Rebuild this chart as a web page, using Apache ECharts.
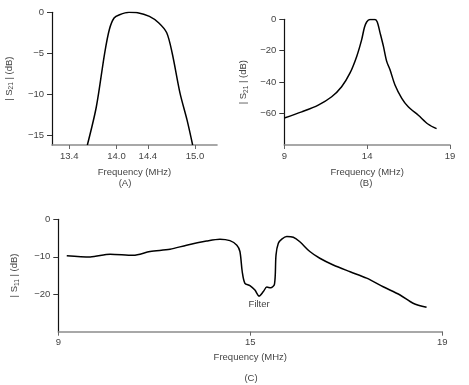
<!DOCTYPE html>
<html><head><meta charset="utf-8">
<script src="https://cdn.jsdelivr.net/npm/echarts@6/dist/echarts.min.js"></script>
<style>html,body{margin:0;padding:0;background:#fff}#c{width:469px;height:385px}</style>
</head><body><div id="c"></div>
<script>
// Panel A: |S21| passband
const aFreq = [13.63, 13.745, 13.85, 13.91, 13.97, 14.04, 14.16, 14.27, 14.42, 14.54, 14.64, 14.71, 14.81, 14.90, 14.97];
const aS21  = [-16.2, -11.5, -5.0, -2.1, -0.7, -0.3, 0.0, -0.05, -0.5, -1.3, -2.5, -5.0, -9.9, -13.2, -16.2];
const aXTicks = [13.4, 14.0, 14.4, 15.0];
const aYTicks = [0, -5, -10, -15];

// Panel B: |S21| wide span
const bFreq = [9.0, 10.05, 11.05, 11.86, 12.46, 12.96, 13.37, 13.67, 13.83, 13.97, 14.17, 14.47, 14.61, 14.78, 14.98, 15.18, 15.38, 15.68, 16.09, 16.48, 17.09, 17.69, 18.19];
const bS21  = [-62.8, -58.9, -54.6, -49.3, -42.9, -34.3, -23.6, -12.9, -5.4, -1.7, -0.2, -0.2, -1.7, -8.6, -17.1, -26.8, -32.1, -41.8, -50.3, -55.7, -61.1, -66.8, -69.6];
const bXTicks = [9, 14, 19];
const bYTicks = [0, -20, -40, -60];

// Panel C: |S11|
const cFreq = [9.22, 9.83, 10.35, 10.95, 11.39, 11.91, 12.34, 12.86, 13.21, 13.47, 13.65, 13.73, 13.79, 13.86, 13.99, 14.12, 14.23, 14.34, 14.43, 14.53, 14.63, 14.67, 14.73, 14.82, 14.95, 15.12, 15.29, 15.55, 15.81, 16.16, 16.60, 17.03, 17.46, 17.90, 18.24, 18.59];
const cS11  = [-9.7, -10.05, -9.3, -9.6, -8.6, -8.0, -6.9, -5.8, -5.3, -5.7, -6.9, -8.6, -14.0, -17.1, -17.7, -18.9, -20.5, -19.3, -18.1, -18.3, -17.3, -9.5, -6.4, -5.3, -4.6, -4.8, -6.0, -8.6, -10.4, -12.2, -14.0, -15.7, -18.0, -20.2, -22.4, -23.5];
const cXTicks = [9, 14, 19];
const cXTickLabels = ['9', '15', '19'];
const cYTicks = [0, -10, -20];
const cAnnotation = {text: 'Filter', freq: 14.23, value: -20.5};

const xName = 'Frequency (MHz)';
const panelLabels = ['(A)', '(B)', '(C)'];

const FONT = 'Liberation Sans, Arial, sans-serif';
const TXT = '#444';
const minus = v => String(v).replace('-', '\u2212');

function xAxis(idx, min, max, ticks, fmt) {
  return {
    type: 'value', gridIndex: idx, min: min, max: max,
    name: xName, nameLocation: 'middle', nameGap: 22,
    nameTextStyle: {fontFamily: FONT, fontSize: 9.5, color: TXT},
    axisLine: {show: true, onZero: false, lineStyle: {color: '#8c8c8c', width: 1.6}},
    axisTick: {show: true, inside: false, length: 4, customValues: ticks, lineStyle: {color: '#666', width: 1}},
    axisLabel: {customValues: ticks, formatter: fmt || (v => minus(v)), fontFamily: FONT, fontSize: 9.5, color: TXT, margin: 6},
    splitLine: {show: false}
  };
}
function yAxis(idx, min, max, ticks, sub, gap) {
  return {
    type: 'value', gridIndex: idx, min: min, max: max,
    name: '| S{s|' + sub + '} | (dB)', nameLocation: 'middle', nameGap: gap, nameRotate: 90,
    nameTextStyle: {fontFamily: FONT, fontSize: 9.5, color: TXT,
      rich: {s: {fontFamily: FONT, fontSize: 6.5, color: TXT, padding: [4, 0, 0, 0]}}},
    axisLine: {show: true, onZero: false, lineStyle: {color: '#111', width: 1.2}},
    axisTick: {show: true, length: 5, customValues: ticks, lineStyle: {color: '#333', width: 1}},
    axisLabel: {customValues: ticks, formatter: v => minus(v), fontFamily: FONT, fontSize: 9.5, color: TXT, margin: 8},
    splitLine: {show: false}
  };
}
function zip(xs, ys) { return xs.map((x, i) => [x, ys[i]]); }
const lineStyle = {color: '#000', width: 1.5};

const chart = echarts.init(document.getElementById('c'), null, {renderer: 'canvas'});
chart.setOption({
  animation: false,
  backgroundColor: '#fff',
  grid: [
    {left: 52, top: 12.3, width: 165, height: 132.7, containLabel: false, outerBoundsMode: 'none'},
    {left: 284.3, top: 19.3, width: 165.7, height: 125.7, containLabel: false, outerBoundsMode: 'none'},
    {left: 58.3, top: 219.3, width: 384, height: 112.4, containLabel: false, outerBoundsMode: 'none'}
  ],
  xAxis: [
    xAxis(0, 13.18, 15.28, aXTicks, v => v.toFixed(1)),
    xAxis(1, 9, 19, bXTicks),
    Object.assign(xAxis(2, 9, 19, cXTicks, v => cXTickLabels[cXTicks.indexOf(v)]), {nameGap: 21})
  ],
  yAxis: [
    yAxis(0, -16.2, 0, aYTicks, '21', 37),
    yAxis(1, -80, 0, bYTicks, '21', 35),
    yAxis(2, -30, 0, cYTicks, '11', 38)
  ],
  series: [
    {type: 'line', xAxisIndex: 0, yAxisIndex: 0, data: zip(aFreq, aS21), showSymbol: false, smooth: 0.3, lineStyle: lineStyle},
    {type: 'line', xAxisIndex: 1, yAxisIndex: 1, data: zip(bFreq, bS21), showSymbol: false, smooth: 0.3, lineStyle: lineStyle},
    {type: 'line', xAxisIndex: 2, yAxisIndex: 2, data: zip(cFreq, cS11), showSymbol: false, smooth: 0.3, lineStyle: lineStyle,
      markPoint: {symbol: 'circle', symbolSize: 0, silent: true,
        label: {show: true, position: 'bottom', distance: 3, formatter: cAnnotation.text, fontFamily: FONT, fontSize: 9.5, color: TXT},
        data: [{coord: [cAnnotation.freq, cAnnotation.value]}]}}
  ],
  graphic: [
    {type: 'text', x: 125, y: 183, style: {text: panelLabels[0], font: '9.5px ' + FONT, fill: TXT, align: 'center', verticalAlign: 'middle'}},
    {type: 'text', x: 366, y: 183, style: {text: panelLabels[1], font: '9.5px ' + FONT, fill: TXT, align: 'center', verticalAlign: 'middle'}},
    {type: 'text', x: 251, y: 378, style: {text: panelLabels[2], font: '9.5px ' + FONT, fill: TXT, align: 'center', verticalAlign: 'middle'}}
  ]
});
</script>
</body></html>
